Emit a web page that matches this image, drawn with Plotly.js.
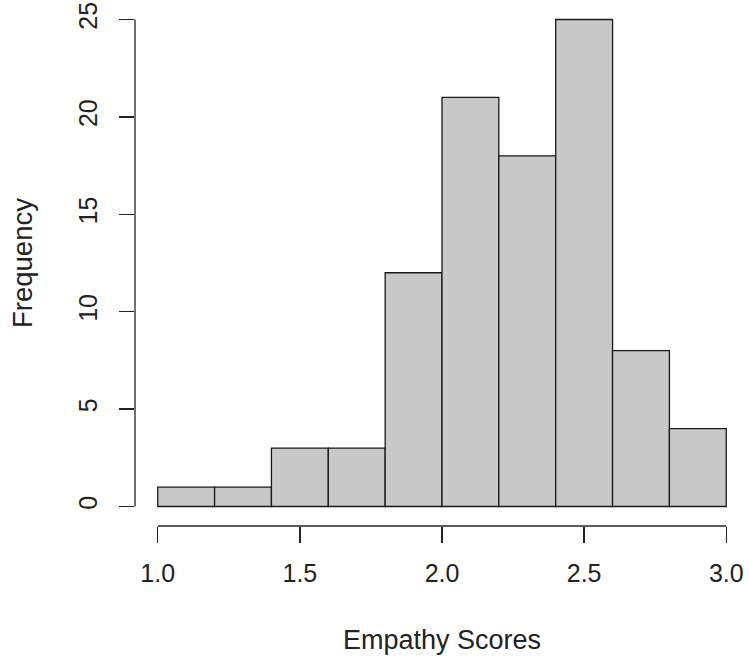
<!DOCTYPE html>
<html>
<head>
<meta charset="utf-8">
<script src="https://cdn.plot.ly/plotly-3.0.1.min.js"></script>
<style>html,body{margin:0;padding:0;background:#fff;}#chart{width:749px;height:661px;}</style>
</head>
<body>
<div id="chart"></div>
<script>
const binStarts = [1.0, 1.2, 1.4, 1.6, 1.8, 2.0, 2.2, 2.4, 2.6, 2.8];
const binWidth = 0.2;
const counts = [1, 1, 3, 3, 12, 21, 18, 25, 8, 4];
const xTicks = [1.0, 1.5, 2.0, 2.5, 3.0];
const xTickLabels = ["1.0", "1.5", "2.0", "2.5", "3.0"];
const yTicks = [0, 5, 10, 15, 20, 25];
const yTickLabels = ["0", "5", "10", "15", "20", "25"];

const font = "Liberation Sans, Arial, Helvetica, sans-serif";
const ink = "#222222";

const trace = {
  type: "bar",
  x: binStarts.map(s => s + binWidth / 2),
  y: counts,
  width: binWidth,
  marker: {color: "#c8c8c8", line: {color: "#1a1a1a", width: 1.3}},
  hoverinfo: "x+y"
};

const layout = {
  width: 749, height: 661,
  margin: {l: 135, r: 0, t: 0, b: 135},
  paper_bgcolor: "#fff", plot_bgcolor: "#fff",
  showlegend: false,
  font: {family: font, color: ink, size: 25},
  xaxis: {
    range: [0.92, 3.08], showgrid: false, zeroline: false, showline: false,
    tickmode: "array", tickvals: xTicks, ticktext: xTickLabels,
    ticks: "outside", ticklen: 16, tickwidth: 1.3, tickcolor: ink,
    tickfont: {family: font, size: 25, color: ink},
    ticklabelstandoff: 9,
    title: {text: "Empathy Scores", font: {family: font, size: 27, color: ink}, standoff: 44},
    automargin: false, fixedrange: true
  },
  yaxis: {
    range: [-1, 26], showgrid: false, zeroline: false, showline: false,
    tickmode: "array", tickvals: yTicks, ticktext: yTickLabels,
    ticks: "outside", ticklen: 15, tickwidth: 1.3, tickcolor: ink,
    tickangle: -90,
    tickfont: {family: font, size: 25, color: ink},
    ticklabelstandoff: 12,
    title: {text: "Frequency", font: {family: font, size: 27.5, color: ink}, standoff: 33},
    automargin: false, fixedrange: true
  },
  shapes: [
    {type: "line", xref: "x", yref: "paper", x0: xTicks[0], x1: xTicks[xTicks.length - 1], y0: 0, y1: 0,
     line: {color: ink, width: 1.3}},
    {type: "line", xref: "paper", yref: "y", x0: 0, x1: 0, y0: yTicks[0], y1: yTicks[yTicks.length - 1],
     line: {color: ink, width: 1.3}}
  ]
};

Plotly.newPlot("chart", [trace], layout, {displayModeBar: false, staticPlot: true});
</script>
</body>
</html>
